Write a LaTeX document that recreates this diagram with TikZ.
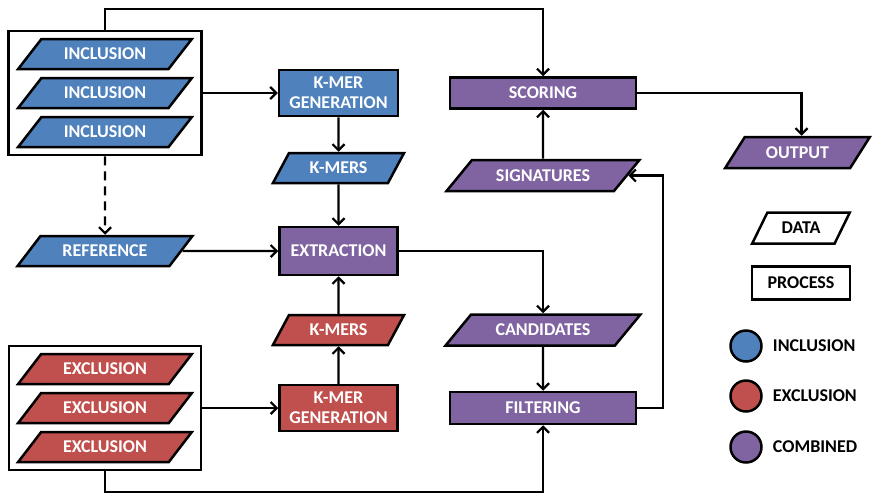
\documentclass[tikz,border=0pt]{standalone}
\usepackage{fontspec}
\setmainfont{Carlito}
\usetikzlibrary{arrows.meta,positioning,fit,shapes.geometric}

\definecolor{inclblue}{HTML}{4F81BD}
\definecolor{exclred}{HTML}{C0504D}
\definecolor{combpurple}{HTML}{8064A2}

\begin{document}
\begin{tikzpicture}[
    x=1pt, y=-1pt,
    font=\fontsize{18}{20}\selectfont\bfseries,
    process/.style={draw=black, line width=2.5pt, rectangle, align=center,
      text=white, inner sep=1pt},
    data/.style={draw=black, line width=2.5pt, trapezium, trapezium stretches,
      trapezium left angle=#1, trapezium right angle={180-#1},
      text=white, inner sep=1pt, minimum height=30pt},
    group/.style={draw=black, line width=2.2pt, inner sep=7pt},
    key/.style={draw=black, line width=2.5pt, circle, minimum size=31pt},
    keytext/.style={text=black, inner sep=0pt},
    arrow/.style={-{Straight Barb[length=6pt,width=12pt,line width=2.2pt]},
      line width=2.2pt}
  ]
    \useasboundingbox (0,0) rectangle (872,498);

    % inclusion side
    \node[data=42, fill=inclblue, minimum width=174pt] (inclA) at (105,54) {INCLUSION};
    \node[data=42, fill=inclblue, minimum width=174pt] (inclB) at (105,93) {INCLUSION};
    \node[data=42, fill=inclblue, minimum width=174pt] (inclC) at (105,132) {INCLUSION};
    \node[group, fit=(inclA.top right corner)(inclC.bottom left corner)] (incl) {};
    \node[data=42, fill=inclblue, minimum width=175pt] (ref) at (105,251) {REFERENCE};

    % exclusion side
    \node[data=42, fill=exclred, minimum width=174pt] (exclA) at (105,369) {EXCLUSION};
    \node[data=42, fill=exclred, minimum width=174pt] (exclB) at (105,408) {EXCLUSION};
    \node[data=42, fill=exclred, minimum width=174pt] (exclC) at (105,447) {EXCLUSION};
    \node[group, fit=(exclA.top right corner)(exclC.bottom left corner)] (excl) {};

    % middle column
    \node[process, fill=inclblue, minimum width=119pt, minimum height=46pt] (kmerA) at (338.5,93) {K-MER\\GENERATION};
    \node[data=55, fill=inclblue, minimum width=132pt] (kmersA) at (338.5,168) {K-MERS};
    \node[process, fill=combpurple, minimum width=118pt, minimum height=48pt] (extr) at (338.5,251) {EXTRACTION};
    \node[data=55, fill=exclred, minimum width=132pt] (kmersB) at (338.5,330) {K-MERS};
    \node[process, fill=exclred, minimum width=118pt, minimum height=46pt] (kmerB) at (338.5,408) {K-MER\\GENERATION};

    % combined column
    \node[process, fill=combpurple, minimum width=186pt, minimum height=31pt] (score) at (543,93) {SCORING};
    \node[data=39, fill=combpurple, minimum width=193pt, minimum height=31pt] (sig) at (543,175.5) {SIGNATURES};
    \node[data=39, fill=combpurple, minimum width=195pt, minimum height=31pt] (cand) at (543,330) {CANDIDATES};
    \node[process, fill=combpurple, minimum width=186pt, minimum height=32pt] (filter) at (543,408) {FILTERING};
    \node[data=49, fill=combpurple, minimum width=146pt, minimum height=31pt] (out) at (797.5,152.5) {OUTPUT};

    % legend
    \node[data=56, fill=white, text=black, minimum width=98pt, minimum height=31pt] (keydata) at (801,228) {DATA};
    \node[process, fill=white, text=black, minimum width=98pt, minimum height=33pt] (keyproc) at (801,283) {PROCESS};
    \node[key, fill=inclblue] (keyincl) at (746,346) {};
    \node[key, fill=exclred] (keyexcl) at (746,396) {};
    \node[key, fill=combpurple] (keycomb) at (746,447) {};
    \node[keytext, right=10pt of keyincl] (labincl) {INCLUSION};
    \node[keytext, right=10pt of keyexcl] (labexcl) {EXCLUSION};
    \node[keytext, right=10pt of keycomb] (labcomb) {COMBINED};

    \coordinate (toprail) at (0,9);
    \coordinate (botrail) at (0,492);

    \draw[arrow] (incl.north) -- (incl.north |- toprail) -| (score.north);
    \draw[arrow] (incl.east) -- (kmerA.west);
    \draw[arrow] (kmerA.south) -- (kmersA.north);
    \draw[arrow] (kmersA.south) -- (extr.north);
    \draw[arrow, dash pattern=on 9pt off 6pt] (incl.south) -- (ref.north);
    \draw[arrow] (ref.east) -- (extr.west);
    \draw[arrow] (kmersB.north) -- (extr.south);
    \draw[arrow] (kmerB.north) -- (kmersB.south);
    \draw[arrow] (excl.east) -- (kmerB.west);
    \draw[arrow] (excl.south) -- (excl.south |- botrail) -| (filter.south);
    \draw[arrow] (extr.east) -| (cand.north);
    \draw[arrow] (cand.south) -- (filter.north);
    \draw[arrow] (filter.east) -- ++(26,0) |- (sig.east);
    \draw[arrow] (sig.north) -- (score.south);
    \draw[arrow] (score.east) -| ([xshift=4pt]out.north);
  \end{tikzpicture}
\end{document}
